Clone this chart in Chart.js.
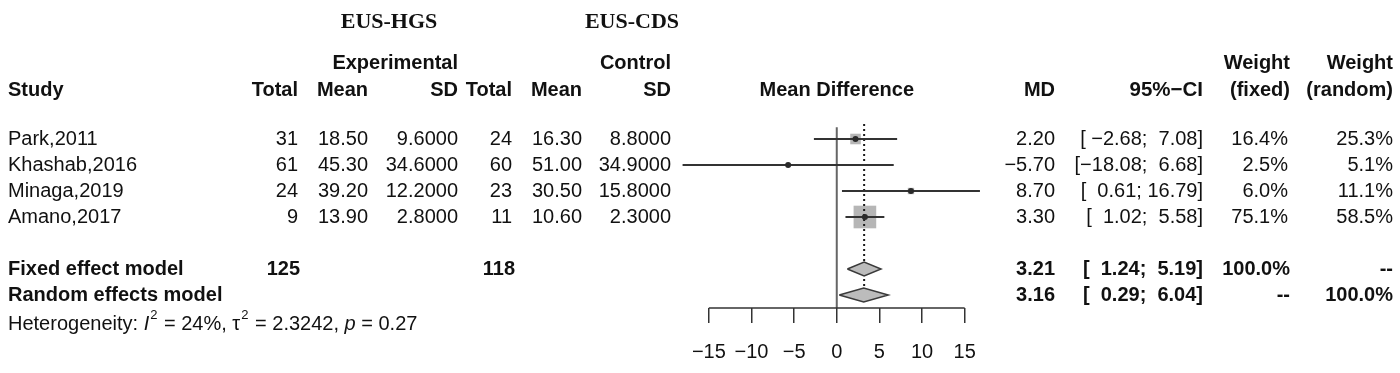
<!DOCTYPE html>
<html>
<head>
<meta charset="utf-8">
<script src="https://cdn.jsdelivr.net/npm/chart.js@4.4.1/dist/chart.umd.min.js"></script>
<style>
  html, body { margin: 0; padding: 0; background: #fff; }
  #wrap { position: relative; width: 1400px; height: 373px; }
</style>
</head>
<body>
<div id="wrap"><canvas id="forest" width="1400" height="373"></canvas></div>
<script>
// per-study data
const studies = ['Park,2011', 'Khashab,2016', 'Minaga,2019', 'Amano,2017'];
const expTotal = [31, 61, 24, 9];
const expMean = [18.50, 45.30, 39.20, 13.90];
const expSD = [9.6, 34.6, 12.2, 2.8];
const ctrlTotal = [24, 60, 23, 11];
const ctrlMean = [16.30, 51.00, 30.50, 10.60];
const ctrlSD = [8.8, 34.9, 15.8, 2.3];
const md = [2.20, -5.70, 8.70, 3.30];
const ciLow = [-2.68, -18.08, 0.61, 1.02];
const ciHigh = [7.08, 6.68, 16.79, 5.58];
const weightFixed = [16.4, 2.5, 6.0, 75.1];
const weightRandom = [25.3, 5.1, 11.1, 58.5];

// pooled results
const models = ['Fixed effect model', 'Random effects model'];
const modelMD = [3.21, 3.16];
const modelLow = [1.24, 0.29];
const modelHigh = [5.19, 6.04];
const pooledTotals = [125, 118];
const hetI2 = 24;
const hetTau2 = 2.3242;
const hetP = 0.27;

const xTicks = [-15, -10, -5, 0, 5, 10, 15];
const xTickLabels = ['\u221215', '\u221210', '\u22125', '0', '5', '10', '15'];

const SANS = '"Liberation Sans", Arial, Helvetica, sans-serif';
const SERIF = '"Liberation Serif", "Times New Roman", serif';
const INK = '#111';

const studyRow = i => i + 1;
const modelRow = j => studies.length + 2 + j;
const fmt = (v, d) => v.toFixed(d).replace('-', '\u2212');
const pad = (s, n) => ' '.repeat(Math.max(0, n - s.length)) + s;

// R style CI text, padded to common widths
const loAll = ciLow.concat(modelLow).map(v => fmt(v, 2));
const hiAll = ciHigh.concat(modelHigh).map(v => fmt(v, 2));
const loW = Math.max(...loAll.map(s => s.length));
const hiW = Math.max(...hiAll.map(s => s.length));
const ciString = (lo, hi) => '[' + pad(fmt(lo, 2), loW) + '; ' + pad(fmt(hi, 2), hiW) + ']';

// squares scale with sqrt of fixed weight
const maxW = Math.max(...weightFixed);
const squareRadius = w => 16 * Math.sqrt(w / maxW);

const datasets = [];

// reference line at zero
datasets.push({
    data: [{ x: 0, y: 0.55 }, { x: 0, y: 7.5 }],
    borderColor: '#666', borderWidth: 2, pointRadius: 0, order: 10
});

// grey weight squares
datasets.push({
    data: md.map((v, i) => ({ x: v, y: studyRow(i) })),
    showLine: false, pointStyle: 'rect',
    pointRadius: ctx => squareRadius(weightFixed[ctx.dataIndex]),
    backgroundColor: '#b6b6b6', borderWidth: 0, order: 9
});

// fixed effect dotted line
datasets.push({
    data: [{ x: modelMD[0], y: 0.42 }, { x: modelMD[0], y: 7.3 }],
    borderColor: '#1a1a1a', borderWidth: 2, borderDash: [2, 3], pointRadius: 0, order: 8
});

// confidence intervals
studies.forEach((s, i) => {
    datasets.push({
        data: [{ x: ciLow[i], y: studyRow(i) }, { x: ciHigh[i], y: studyRow(i) }],
        borderColor: '#333', borderWidth: 2, pointRadius: 0, order: 6
    });
});

// point estimates
datasets.push({
    data: md.map((v, i) => ({ x: v, y: studyRow(i) })),
    showLine: false, pointStyle: 'circle', pointRadius: 3,
    backgroundColor: '#2a2a2a', borderWidth: 0, order: 5
});

// summary diamonds
models.forEach((m, j) => {
    const r = modelRow(j);
    datasets.push({
        data: [
            { x: modelLow[j], y: r }, { x: modelMD[j], y: r - 0.27 },
            { x: modelHigh[j], y: r }, { x: modelMD[j], y: r + 0.27 },
            { x: modelLow[j], y: r }
        ],
        fill: 'shape', backgroundColor: '#bcbcbc', borderColor: '#3a3a3a',
        borderWidth: 1.5, pointRadius: 0, order: 4
    });
});

// x axis line over the tick range only
datasets.push({
    data: [{ x: xTicks[0], y: 7.5 }, { x: xTicks[xTicks.length - 1], y: 7.5 }],
    borderColor: '#333', borderWidth: 1.5, pointRadius: 0, clip: false, order: 1
});

function put(ctx, s, x, y, align, font) {
    ctx.font = font;
    ctx.textAlign = align;
    ctx.fillText(s, x, y);
    return ctx.measureText(s).width;
}

const tablePlugin = {
    id: 'forestTable',
    afterDraw(chart) {
        const ctx = chart.ctx;
        const y = chart.scales.y;
        ctx.save();
        ctx.fillStyle = INK;
        ctx.textBaseline = 'middle';
        const reg = '20px ' + SANS;
        const bold = 'bold 20px ' + SANS;

        // group titles
        put(ctx, 'EUS-HGS', 389, 22, 'center', 'bold 22px ' + SERIF);
        put(ctx, 'EUS-CDS', 632, 22, 'center', 'bold 22px ' + SERIF);

        // headers
        put(ctx, 'Experimental', 458, 63, 'right', bold);
        put(ctx, 'Control', 671, 63, 'right', bold);
        put(ctx, 'Weight', 1290, 63, 'right', bold);
        put(ctx, 'Weight', 1393, 63, 'right', bold);
        put(ctx, 'Study', 8, 90, 'left', bold);
        put(ctx, 'Total', 298, 90, 'right', bold);
        put(ctx, 'Mean', 368, 90, 'right', bold);
        put(ctx, 'SD', 458, 90, 'right', bold);
        put(ctx, 'Total', 512, 90, 'right', bold);
        put(ctx, 'Mean', 582, 90, 'right', bold);
        put(ctx, 'SD', 671, 90, 'right', bold);
        put(ctx, 'Mean Difference', chart.scales.x.getPixelForValue(0), 90, 'center', bold);
        put(ctx, 'MD', 1055, 90, 'right', bold);
        put(ctx, '95%\u2212CI', 1203, 90, 'right', 'bold 20.5px ' + SANS);
        put(ctx, '(fixed)', 1290, 90, 'right', bold);
        put(ctx, '(random)', 1393, 90, 'right', bold);

        studies.forEach((s, i) => {
            const py = y.getPixelForValue(studyRow(i));
            put(ctx, s, 8, py, 'left', reg);
            put(ctx, String(expTotal[i]), 298, py, 'right', reg);
            put(ctx, fmt(expMean[i], 2), 368, py, 'right', reg);
            put(ctx, fmt(expSD[i], 4), 458, py, 'right', reg);
            put(ctx, String(ctrlTotal[i]), 512, py, 'right', reg);
            put(ctx, fmt(ctrlMean[i], 2), 582, py, 'right', reg);
            put(ctx, fmt(ctrlSD[i], 4), 671, py, 'right', reg);
            put(ctx, fmt(md[i], 2), 1055, py, 'right', reg);
            put(ctx, ciString(ciLow[i], ciHigh[i]), 1203, py, 'right', reg);
            put(ctx, fmt(weightFixed[i], 1) + '%', 1288, py, 'right', reg);
            put(ctx, fmt(weightRandom[i], 1) + '%', 1393, py, 'right', reg);
        });

        models.forEach((m, j) => {
            const py = y.getPixelForValue(modelRow(j));
            put(ctx, m, 8, py, 'left', bold);
            if (j === 0) {
                put(ctx, String(pooledTotals[0]), 300, py, 'right', bold);
                put(ctx, String(pooledTotals[1]), 515, py, 'right', bold);
            }
            put(ctx, fmt(modelMD[j], 2), 1055, py, 'right', bold);
            put(ctx, ciString(modelLow[j], modelHigh[j]), 1203, py, 'right', bold);
            put(ctx, j === 0 ? '100.0%' : '--', 1290, py, 'right', bold);
            put(ctx, j === 1 ? '100.0%' : '--', 1393, py, 'right', bold);
        });

        // heterogeneity line with superscripts
        const hy = 324;
        const hf = '20px ' + SANS, hi = 'italic 20px ' + SANS, hs = '13px ' + SANS;
        let x = 8;
        x += put(ctx, 'Heterogeneity: ', x, hy, 'left', hf);
        x += put(ctx, 'I', x, hy, 'left', hi) + 1;
        x += put(ctx, '2', x, hy - 9, 'left', hs) + 1;
        x += put(ctx, ' = ' + hetI2 + '%, ', x, hy, 'left', hf);
        x += put(ctx, '\u03c4', x, hy, 'left', hf) + 1;
        x += put(ctx, '2', x, hy - 9, 'left', hs) + 1;
        x += put(ctx, ' = ' + hetTau2.toFixed(4) + ', ', x, hy, 'left', hf);
        x += put(ctx, 'p', x, hy, 'left', hi);
        put(ctx, ' = ' + hetP.toFixed(2), x, hy, 'left', hf);

        ctx.restore();
    }
};

new Chart(document.getElementById('forest'), {
    type: 'line',
    data: { datasets },
    options: {
        responsive: false,
        animation: false,
        layout: { padding: { left: 679, right: 414, top: 113, bottom: 0 } },
        plugins: { legend: { display: false }, tooltip: { enabled: false } },
        elements: { line: { tension: 0 } },
        scales: {
            x: {
                type: 'linear', min: -18.5, max: 17.5,
                afterBuildTicks: s => { s.ticks = xTicks.map(v => ({ value: v })); },
                afterFit: s => { s.height = 65; },
                ticks: {
                    callback: v => xTickLabels[xTicks.indexOf(v)],
                    font: { family: SANS, size: 20 }, color: INK,
                    padding: 17, maxRotation: 0, autoSkip: false
                },
                grid: { drawOnChartArea: false, tickLength: 15, color: '#333', lineWidth: 1.5 },
                border: { display: false }
            },
            y: { type: 'linear', display: false, min: 0, max: 7.5, reverse: true }
        }
    },
    plugins: [tablePlugin]
});
</script>
</body>
</html>
